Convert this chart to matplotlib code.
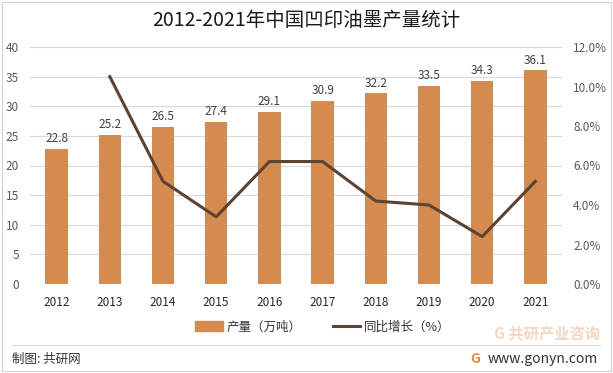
import matplotlib.pyplot as plt
from matplotlib.lines import Line2D
from matplotlib.patches import Patch, Rectangle

plt.rcParams['font.family'] = ['Noto Sans CJK SC', 'DejaVu Sans']

years = ['2012', '2013', '2014', '2015', '2016', '2017', '2018', '2019', '2020', '2021']
output = [22.8, 25.2, 26.5, 27.4, 29.1, 30.9, 32.2, 33.5, 34.3, 36.1]
growth_years = years[1:]
growth = [10.5, 5.2, 3.4, 6.2, 6.2, 4.2, 4.0, 2.4, 5.2]

bar_color = '#D58B4D'
line_color = '#5C4332'
text_color = '#595959'

fig = plt.figure(figsize=(6.13, 3.73), dpi=100)
ax = fig.add_axes([30 / 613, 1 - 284 / 373, 532 / 613, 237 / 373])
ax2 = ax.twinx()

x = list(range(len(years)))
ax.bar(x, output, width=0.42, color=bar_color, zorder=2)
for xi, v in zip(x, output):
    ax.text(xi, v + 0.6, f'{v:.1f}', ha='center', va='bottom', fontsize=8.5, color='#404040')

gx = [years.index(y) for y in growth_years]
ax2.plot(gx, growth, color=line_color, lw=2.2, zorder=3)

ax.set_xlim(-0.5, len(years) - 0.5)
ax.set_ylim(0, 40)
ax.set_yticks(range(0, 41, 5))
ax2.set_ylim(0, 12)
ax2.set_yticks(range(0, 13, 2))
ax2.set_yticklabels([f'{t:.1f}%' for t in range(0, 13, 2)])
ax.set_xticks(x)
ax.set_xticklabels(years)

ax.grid(axis='y', color='#D9D9D9', lw=0.8, zorder=0)
ax.set_axisbelow(True)
for a in (ax, ax2):
    for s in a.spines.values():
        s.set_visible(False)
    a.tick_params(length=0, labelsize=8.5, colors=text_color)
ax.tick_params(axis='x', pad=9, colors='#262626')
ax.tick_params(axis='y', pad=8)
ax2.tick_params(axis='y', pad=8)

fig.text(0.5, 1 - 20 / 373, '2012-2021年中国凹印油墨产量统计', ha='center', va='center',
         fontsize=14, color='#1a1a1a')

handles = [Patch(color=bar_color), Line2D([0], [0], color=line_color, lw=2.2)]
fig.legend(handles, ['产量（万吨）', '同比增长（%）'], loc='center',
           bbox_to_anchor=(323 / 613, 1 - 327 / 373), ncol=2, frameon=False, fontsize=9,
           handlelength=2.2, handleheight=0.9, handletextpad=0.3, columnspacing=2.5,
           labelcolor='#333333')

# footer
fig.add_artist(Line2D([12 / 613, 600 / 613], [1 - 345 / 373] * 2, color='#D9D9D9', lw=0.8))
fig.text(12 / 613, 1 - 359 / 373, '制图: 共研网', ha='left', va='center', fontsize=9, color='#333333')
fig.text(598 / 613, 1 - 359 / 373, 'www.gonyn.com', ha='right', va='center', fontsize=10, color='#333333')
fig.text(475 / 613, 1 - 359 / 373, 'G', ha='center', va='center', fontsize=10,
         color='#F08A3C', fontweight='bold')
fig.text(600 / 613, 1 - 334 / 373, 'G 共研产业咨询', ha='right', va='center', fontsize=11,
         color='#F6CBB0', fontweight='bold', alpha=0.8)
fig.add_artist(Rectangle((2 / 613, 2 / 373), 609 / 613, 369 / 373, fill=False,
                         ec='#D0D0D0', lw=0.8, transform=fig.transFigure))

fig.savefig('out.png', dpi=100)
